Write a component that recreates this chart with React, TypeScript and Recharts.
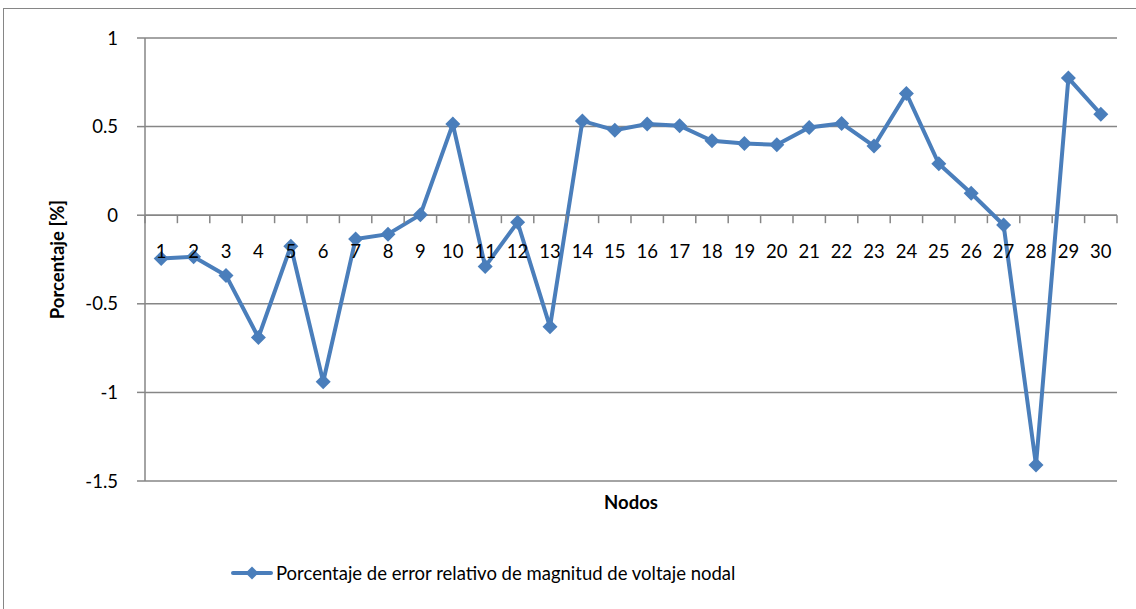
import React from 'react';
import {
  LineChart,
  Line,
  XAxis,
  YAxis,
  CartesianGrid,
  ReferenceLine,
} from 'recharts';

// Nodes 1..30 and relative error of nodal voltage magnitude (%)
const nodos = Array.from({ length: 30 }, (_, i) => String(i + 1));
const errores = [
  -0.245, -0.235, -0.34, -0.69, -0.175, -0.94, -0.135, -0.107, 0.003, 0.514,
  -0.29, -0.04, -0.63, 0.532, 0.48, 0.514, 0.505, 0.42, 0.405, 0.397,
  0.495, 0.518, 0.39, 0.687, 0.29, 0.124, -0.055, -1.41, 0.774, 0.57,
];
const yTicks = [1, 0.5, 0, -0.5, -1, -1.5];

const SERIES_NAME = 'Porcentaje de error relativo de magnitud de voltaje nodal';
const BLUE = '#4A7EBB';
const GRAY = '#868686';
const FONT = 'Lato, "Open Sans", sans-serif';
const FS = 18.5;

const W = 1136;
const H = 609;
const PLOT_TOP = 38;
const PLOT_BOTTOM = 481;
const PLOT_LEFT = 145;
const PLOT_RIGHT = 1117;
const Y_MAX = 1;
const Y_MIN = -1.5;
const ZERO_Y = PLOT_TOP + ((Y_MAX - 0) / (Y_MAX - Y_MIN)) * (PLOT_BOTTOM - PLOT_TOP);
const BAND = (PLOT_RIGHT - PLOT_LEFT) / nodos.length;

const data = nodos.map((n, i) => ({ nodo: n, valor: errores[i] }));

const Diamond = ({ cx, cy, size = 7.5 }: any) => {
  if (cx == null || cy == null) return null;
  const r = size;
  return (
    <path
      d={`M${cx},${cy - r} L${cx + r},${cy} L${cx},${cy + r} L${cx - r},${cy} Z`}
      fill={BLUE}
      stroke="none"
    />
  );
};

const XTick = (props: any) => {
  const { x, payload, index, visibleTicksCount } = props;
  const left = x - BAND / 2;
  const right = x + BAND / 2;
  return (
    <g>
      <line x1={left} y1={ZERO_Y} x2={left} y2={ZERO_Y + 8} stroke={GRAY} strokeWidth={1.5} />
      {index === visibleTicksCount - 1 && (
        <line x1={right} y1={ZERO_Y} x2={right} y2={ZERO_Y + 8} stroke={GRAY} strokeWidth={1.5} />
      )}
      <text
        x={x}
        y={ZERO_Y + 36}
        textAnchor="middle"
        dominantBaseline="central"
        fill="#000"
        fontSize={FS}
        fontFamily={FONT}
      >
        {payload.value}
      </text>
    </g>
  );
};

const App: React.FC = () => {
  return (
    <div style={styles.page}>
      <div style={styles.frame} />
      <div style={{ position: 'absolute', left: 0, top: 0 }}>
        <LineChart
          width={W}
          height={H}
          data={data}
          margin={{ top: PLOT_TOP, left: PLOT_LEFT - 80, right: W - PLOT_RIGHT, bottom: H - PLOT_BOTTOM - 30 }}
        >
          <CartesianGrid horizontal vertical={false} stroke={GRAY} strokeWidth={1.5} />
          <XAxis
            dataKey="nodo"
            height={30}
            axisLine={false}
            tickLine={false}
            interval={0}
            padding={{ left: BAND / 2, right: BAND / 2 }}
            tick={<XTick />}
            label={(p: any) => {
              const vb = p.viewBox || {};
              return (
                <text
                  x={vb.x + vb.width / 2}
                  y={vb.y + 21}
                  textAnchor="middle"
                  dominantBaseline="central"
                  fontSize={FS}
                  fontWeight={700}
                  fontFamily={FONT}
                  fill="#000"
                >
                  Nodos
                </text>
              );
            }}
          />
          <YAxis
            width={80}
            domain={[Y_MIN, Y_MAX]}
            ticks={yTicks}
            interval={0}
            axisLine={{ stroke: GRAY, strokeWidth: 1.5 }}
            tickLine={{ stroke: GRAY, strokeWidth: 1.5 }}
            tickSize={8}
            tickMargin={19}
            tick={{ fill: '#000', fontSize: FS, fontFamily: FONT }}
            label={(p: any) => {
              const vb = p.viewBox || {};
              const cy = vb.y + vb.height / 2;
              return (
                <text
                  x={57}
                  y={cy}
                  transform={`rotate(-90, 57, ${cy})`}
                  textAnchor="middle"
                  dominantBaseline="central"
                  fontSize={FS}
                  fontWeight={700}
                  fontFamily={FONT}
                  fill="#000"
                >
                  Porcentaje [%]
                </text>
              );
            }}
          />
          <ReferenceLine y={0} stroke={GRAY} strokeWidth={1.5} />
          <Line
            type="linear"
            dataKey="valor"
            name={SERIES_NAME}
            stroke={BLUE}
            strokeWidth={4}
            dot={<Diamond size={7.5} />}
            activeDot={false}
            isAnimationActive={false}
          />
        </LineChart>
      </div>
      {/* legend */}
      <div style={styles.legend}>
        <svg width={42} height={16} style={{ marginRight: 3 }}>
          <line x1={2} y1={8} x2={40} y2={8} stroke={BLUE} strokeWidth={4} strokeLinecap="round" />
          <Diamond cx={21} cy={8} size={6.5} />
        </svg>
        <span>{SERIES_NAME}</span>
      </div>
    </div>
  );
};

const styles: Record<string, React.CSSProperties> = {
  page: {
    position: 'absolute',
    left: 0,
    top: 0,
    width: W,
    height: H,
    background: '#fff',
    overflow: 'hidden',
  },
  frame: {
    position: 'absolute',
    left: 3,
    top: 8,
    width: W + 20,
    height: H + 20,
    border: `1.5px solid ${GRAY}`,
  },
  legend: {
    position: 'absolute',
    left: 231,
    top: 562,
    display: 'flex',
    alignItems: 'center',
    fontSize: FS,
    fontFamily: FONT,
    color: '#000',
    whiteSpace: 'nowrap',
  },
};

export default App;
